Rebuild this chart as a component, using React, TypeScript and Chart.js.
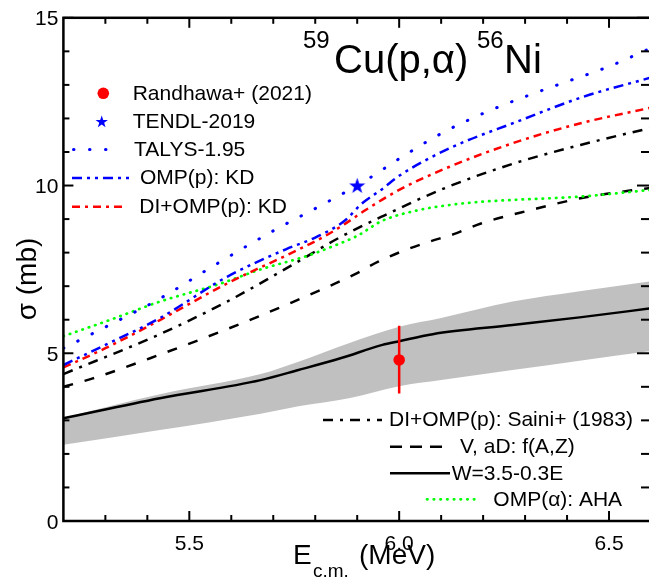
import { useEffect, useRef } from 'react';
import { Chart, registerables } from 'chart.js';

Chart.register(...registerables);

const FONT = '"Liberation Sans", Arial, Helvetica, sans-serif';

// ---------- data (E in MeV, sigma in mb) ----------
const bandE = [5.2, 5.43, 5.67, 5.76, 5.88, 6.0, 6.1, 6.27, 6.43, 6.6];
const bandUpper = [3.08, 3.78, 4.38, 4.75, 5.3, 5.79, 6.05, 6.54, 6.85, 7.15];
const bandLower = [2.27, 2.71, 3.2, 3.42, 3.66, 4.02, 4.2, 4.5, 4.78, 5.07];

const wE = [5.2, 5.43, 5.67, 5.76, 5.86, 5.96, 6.0, 6.08, 6.27, 6.43, 6.6];
const wSigma = [3.06, 3.66, 4.2, 4.5, 4.85, 5.25, 5.36, 5.57, 5.84, 6.07, 6.34];

const vE = [5.2, 5.27, 5.43, 5.59, 5.745, 5.895, 5.95, 6.005, 6.07, 6.13, 6.195, 6.314, 6.432, 6.55, 6.6];
const vSigma = [4.0, 4.25, 4.96, 5.72, 6.52, 7.36, 7.73, 8.03, 8.32, 8.55, 8.87, 9.27, 9.62, 9.85, 9.93];

const sainiE = [5.2, 5.43, 5.59, 5.745, 5.855, 5.958, 6.116, 6.274, 6.432, 6.6];
const sainiSigma = [4.38, 5.57, 6.54, 7.63, 8.43, 9.07, 9.96, 10.66, 11.21, 11.72];

const diKdE = [5.2, 5.3, 5.43, 5.59, 5.75, 5.82, 5.87, 5.92, 6.0, 6.12, 6.27, 6.43, 6.6];
const diKdSigma = [4.58, 5.15, 5.99, 7.08, 8.03, 8.47, 8.85, 9.27, 9.87, 10.56, 11.26, 11.85, 12.32];

const ompKdE = [5.2, 5.3, 5.43, 5.59, 5.73, 5.8, 5.87, 5.91, 5.96, 6.0, 6.12, 6.28, 6.44, 6.6];
const ompKdSigma = [4.65, 5.25, 6.05, 7.28, 8.1, 8.45, 8.95, 9.45, 9.9, 10.29, 11.11, 11.9, 12.65, 13.22];

const talysE = [5.2, 5.3, 5.43, 5.57, 5.7, 5.82, 5.92, 6.0, 6.1, 6.2, 6.3, 6.4, 6.5, 6.6];
const talysSigma = [5.15, 5.78, 6.63, 7.7, 8.65, 9.45, 10.15, 10.8, 11.55, 12.15, 12.65, 13.1, 13.55, 14.1];

const ahaE = [5.2, 5.31, 5.43, 5.57, 5.67, 5.78, 5.84, 5.9, 5.96, 6.04, 6.12, 6.2, 6.27, 6.43, 6.6];
const ahaSigma = [5.51, 5.99, 6.54, 7.06, 7.5, 7.9, 8.18, 8.5, 8.95, 9.25, 9.42, 9.52, 9.57, 9.67, 9.87];

const expE = [6.0];
const expSigma = [4.8];
const expErrLow = [3.8];
const expErrHigh = [5.82];

const tendlE = [5.9];
const tendlSigma = [10.0];

// ---------- axes ----------
const xMin = 5.2;
const xMax = 6.6;
const yMin = 0;
const yMax = 15;
const xMajorTicks = [5.5, 6.0, 6.5];
const xTickLabels = ['5.5', '6.0', '6.5'];
const xMinorTicks = [5.3, 5.4, 5.6, 5.7, 5.8, 5.9, 6.1, 6.2, 6.3, 6.4];
const yMajorTicks = [0, 5, 10, 15];
const yTickLabels = ['0', '5', '10', '15'];
const yMinorTicks = [1, 2, 3, 4, 6, 7, 8, 9, 11, 12, 13, 14];

// ---------- styles ----------
const BLUE = '#0000ff';
const RED = '#ff0000';
const GREEN = '#00ff00';
const BLACK = '#000000';
const GRAY = 'rgb(192,192,192)';

const DASH_TALYS = [0.5, 15.5];
const DASH_OMPKD = [10, 5, 3, 5, 3, 5];
const DASH_DIKD = [8, 5, 3, 5];
const DASH_SAINI = [10, 7, 3, 7];
const DASH_V = [10, 12];
const DASH_AHA = [0.5, 6.2];

const CANVAS_W = 660;
const CANVAS_H = 585;

function pts(xs: number[], ys: number[]) {
  return xs.map((x, i) => ({ x, y: ys[i] }));
}

function drawStarPath(g: CanvasRenderingContext2D, cx: number, cy: number, R: number) {
  const r = R * 0.4;
  g.beginPath();
  for (let i = 0; i < 10; i++) {
    const rad = i % 2 === 0 ? R : r;
    const a = -Math.PI / 2 + (i * Math.PI) / 5;
    const px = cx + rad * Math.cos(a);
    const py = cy + rad * Math.sin(a);
    if (i === 0) g.moveTo(px, py);
    else g.lineTo(px, py);
  }
  g.closePath();
}

function makeStar(R: number, color: string) {
  const c = document.createElement('canvas');
  const s = Math.ceil(R * 2 + 2);
  c.width = s;
  c.height = s;
  const g = c.getContext('2d')!;
  drawStarPath(g, s / 2, s / 2 + R * 0.08, R);
  g.fillStyle = color;
  g.fill();
  return c;
}

function seg(
  ctx: CanvasRenderingContext2D,
  x1: number,
  x2: number,
  y: number,
  color: string,
  dash: number[],
  width: number,
  cap: CanvasLineCap
) {
  ctx.save();
  ctx.strokeStyle = color;
  ctx.lineWidth = width;
  ctx.lineCap = cap;
  ctx.setLineDash(dash);
  ctx.beginPath();
  ctx.moveTo(x1, y);
  ctx.lineTo(x2, y);
  ctx.stroke();
  ctx.restore();
}

const decorPlugin = {
  id: 'decor',
  afterDraw(chart: any) {
    const ctx: CanvasRenderingContext2D = chart.ctx;
    const xs = chart.scales.x;
    const ys = chart.scales.y;
    const { left, right, top, bottom } = chart.chartArea;
    ctx.save();
    ctx.fillStyle = BLACK;
    ctx.strokeStyle = BLACK;

    // ticks (inward)
    ctx.lineWidth = 2;
    ctx.setLineDash([]);
    const tick = (x1: number, y1: number, x2: number, y2: number) => {
      ctx.beginPath();
      ctx.moveTo(x1, y1);
      ctx.lineTo(x2, y2);
      ctx.stroke();
    };
    const MAJ = 10;
    const MIN = 6;
    xMajorTicks.forEach((v) => {
      const p = xs.getPixelForValue(v);
      tick(p, bottom, p, bottom - MAJ);
      tick(p, top, p, top + MAJ);
    });
    xMinorTicks.forEach((v) => {
      const p = xs.getPixelForValue(v);
      tick(p, bottom, p, bottom - MIN);
      tick(p, top, p, top + MIN);
    });
    yMajorTicks.forEach((v) => {
      const p = ys.getPixelForValue(v);
      tick(left, p, left + MAJ, p);
      tick(right, p, right - MAJ - 4, p);
    });
    yMinorTicks.forEach((v) => {
      const p = ys.getPixelForValue(v);
      tick(left, p, left + MIN, p);
      tick(right, p, right - MIN - 4, p);
    });

    // frame
    ctx.lineWidth = 2.5;
    ctx.strokeRect(left, top, right - left, bottom - top);

    // tick labels
    ctx.font = `21px ${FONT}`;
    ctx.textAlign = 'center';
    ctx.textBaseline = 'alphabetic';
    xMajorTicks.forEach((v, i) => {
      ctx.fillText(xTickLabels[i], xs.getPixelForValue(v), bottom + 28.5);
    });
    ctx.textAlign = 'right';
    yMajorTicks.forEach((v, i) => {
      ctx.fillText(yTickLabels[i], left - 5, ys.getPixelForValue(v) + 7.5);
    });

    // axis titles
    ctx.textAlign = 'left';
    ctx.font = `28px ${FONT}`;
    ctx.fillText('E', 293, 564);
    ctx.font = `19px ${FONT}`;
    ctx.fillText('c.m.', 313, 577);
    ctx.font = `28px ${FONT}`;
    ctx.fillText('(MeV)', 359, 564);

    ctx.save();
    ctx.translate(28, 279);
    ctx.rotate(-Math.PI / 2);
    ctx.textAlign = 'center';
    ctx.textBaseline = 'middle';
    ctx.font = `28px ${FONT}`;
    ctx.fillText('σ (mb)', 0, 0);
    ctx.restore();

    // reaction title
    ctx.textAlign = 'left';
    ctx.textBaseline = 'alphabetic';
    ctx.font = `24px ${FONT}`;
    ctx.fillText('59', 303, 48);
    ctx.font = `40px ${FONT}`;
    ctx.fillText('Cu(p,α)', 334, 73);
    ctx.font = `24px ${FONT}`;
    ctx.fillText('56', 477, 48);
    ctx.font = `40px ${FONT}`;
    ctx.fillText('Ni', 504, 73);

    // legend (top-left)
    ctx.font = `21px ${FONT}`;
    ctx.textBaseline = 'middle';
    ctx.beginPath();
    ctx.arc(103.3, 93.3, 5.8, 0, Math.PI * 2);
    ctx.fillStyle = RED;
    ctx.fill();
    ctx.fillStyle = BLUE;
    drawStarPath(ctx, 101.7, 122, 6.5);
    ctx.fill();
    seg(ctx, 73.5, 120, 149.5, BLUE, DASH_TALYS, 3, 'round');
    seg(ctx, 72, 133, 178, BLUE, DASH_OMPKD, 2.5, 'butt');
    seg(ctx, 72, 123, 206.7, RED, DASH_DIKD, 2.5, 'butt');
    ctx.fillStyle = BLACK;
    ctx.fillText('Randhawa+ (2021)', 132.7, 94);
    ctx.fillText('TENDL-2019', 132.7, 122);
    ctx.fillText('TALYS-1.95', 134, 150);
    ctx.fillText('OMP(p): KD', 140, 178);
    ctx.fillText('DI+OMP(p): KD', 139.3, 207);

    // legend (bottom-right)
    seg(ctx, 323, 382, 420, BLACK, DASH_SAINI, 2.5, 'butt');
    seg(ctx, 390, 443, 446.7, BLACK, [12, 8], 2.5, 'butt');
    seg(ctx, 390, 450, 473.3, BLACK, [], 2.5, 'butt');
    seg(ctx, 427, 478, 499.3, GREEN, DASH_AHA, 2.7, 'round');
    ctx.fillStyle = BLACK;
    ctx.fillText('DI+OMP(p): Saini+ (1983)', 389, 420.5);
    ctx.fillText('V, aD: f(A,Z)', 460, 447);
    ctx.fillText('W=3.5-0.3E', 451.7, 474);
    ctx.fillText('OMP(α): AHA', 493.3, 500);

    ctx.restore();
  },
};

export default function App() {
  const ref = useRef<HTMLCanvasElement | null>(null);

  useEffect(() => {
    if (!ref.current) return;
    const star = makeStar(8.5, BLUE);
    const lineDefaults = {
      pointRadius: 0,
      borderWidth: 2.5,
      fill: false,
      cubicInterpolationMode: 'monotone' as const,
      borderCapStyle: 'butt' as const,
    };
    const chart = new Chart(ref.current, {
      type: 'line',
      data: {
        datasets: [
          {
            label: 'band upper',
            data: pts(bandE, bandUpper),
            borderWidth: 0,
            pointRadius: 0,
            backgroundColor: GRAY,
            borderColor: 'rgba(0,0,0,0)',
            fill: '+1',
            cubicInterpolationMode: 'monotone',
            order: 100,
          },
          {
            label: 'band lower',
            data: pts(bandE, bandLower),
            borderWidth: 0,
            pointRadius: 0,
            borderColor: 'rgba(0,0,0,0)',
            fill: false,
            cubicInterpolationMode: 'monotone',
            order: 99,
          },
          {
            ...lineDefaults,
            label: 'W=3.5-0.3E',
            data: pts(wE, wSigma),
            borderColor: BLACK,
            order: 20,
          },
          {
            ...lineDefaults,
            label: 'V, aD: f(A,Z)',
            data: pts(vE, vSigma),
            borderColor: BLACK,
            borderDash: DASH_V,
            order: 19,
          },
          {
            ...lineDefaults,
            label: 'DI+OMP(p): Saini+ (1983)',
            data: pts(sainiE, sainiSigma),
            borderColor: BLACK,
            borderDash: DASH_SAINI,
            order: 18,
          },
          {
            ...lineDefaults,
            label: 'OMP(α): AHA',
            data: pts(ahaE, ahaSigma),
            borderColor: GREEN,
            borderDash: DASH_AHA,
            borderWidth: 2.7,
            borderCapStyle: 'round',
            order: 17,
          },
          {
            ...lineDefaults,
            label: 'DI+OMP(p): KD',
            data: pts(diKdE, diKdSigma),
            borderColor: RED,
            borderDash: DASH_DIKD,
            order: 16,
          },
          {
            ...lineDefaults,
            label: 'OMP(p): KD',
            data: pts(ompKdE, ompKdSigma),
            borderColor: BLUE,
            borderDash: DASH_OMPKD,
            order: 15,
          },
          {
            ...lineDefaults,
            label: 'TALYS-1.95',
            data: pts(talysE, talysSigma),
            borderColor: BLUE,
            borderDash: DASH_TALYS,
            borderWidth: 3,
            borderCapStyle: 'round',
            order: 14,
          },
          {
            label: 'TENDL-2019',
            data: pts(tendlE, tendlSigma),
            showLine: false,
            pointStyle: star as any,
            pointRadius: 8,
            order: 3,
          },
          {
            label: 'error bar',
            data: [
              { x: expE[0], y: expErrLow[0] },
              { x: expE[0], y: expErrHigh[0] },
            ],
            borderColor: RED,
            borderWidth: 2.5,
            pointRadius: 0,
            tension: 0,
            fill: false,
            order: 2,
          },
          {
            label: 'Randhawa+ (2021)',
            data: pts(expE, expSigma),
            showLine: false,
            pointRadius: 5.8,
            pointBackgroundColor: RED,
            pointBorderWidth: 0,
            pointBorderColor: RED,
            order: 1,
          },
        ] as any,
      },
      options: {
        responsive: false,
        animation: false,
        events: [],
        layout: {
          padding: { left: 63.4, right: CANVAS_W - 654.2, top: 17.8, bottom: CANVAS_H - 521 },
        },
        scales: {
          x: { type: 'linear', min: xMin, max: xMax, display: false },
          y: { type: 'linear', min: yMin, max: yMax, display: false },
        },
        plugins: {
          legend: { display: false },
          tooltip: { enabled: false },
        },
      },
      plugins: [decorPlugin],
    });
    return () => chart.destroy();
  }, []);

  return (
    <div
      style={{
        position: 'fixed',
        left: 0,
        top: 0,
        width: 649,
        height: 585,
        overflow: 'hidden',
        background: '#ffffff',
      }}
    >
      <canvas ref={ref} width={CANVAS_W} height={CANVAS_H} style={{ display: 'block' }} />
    </div>
  );
}
